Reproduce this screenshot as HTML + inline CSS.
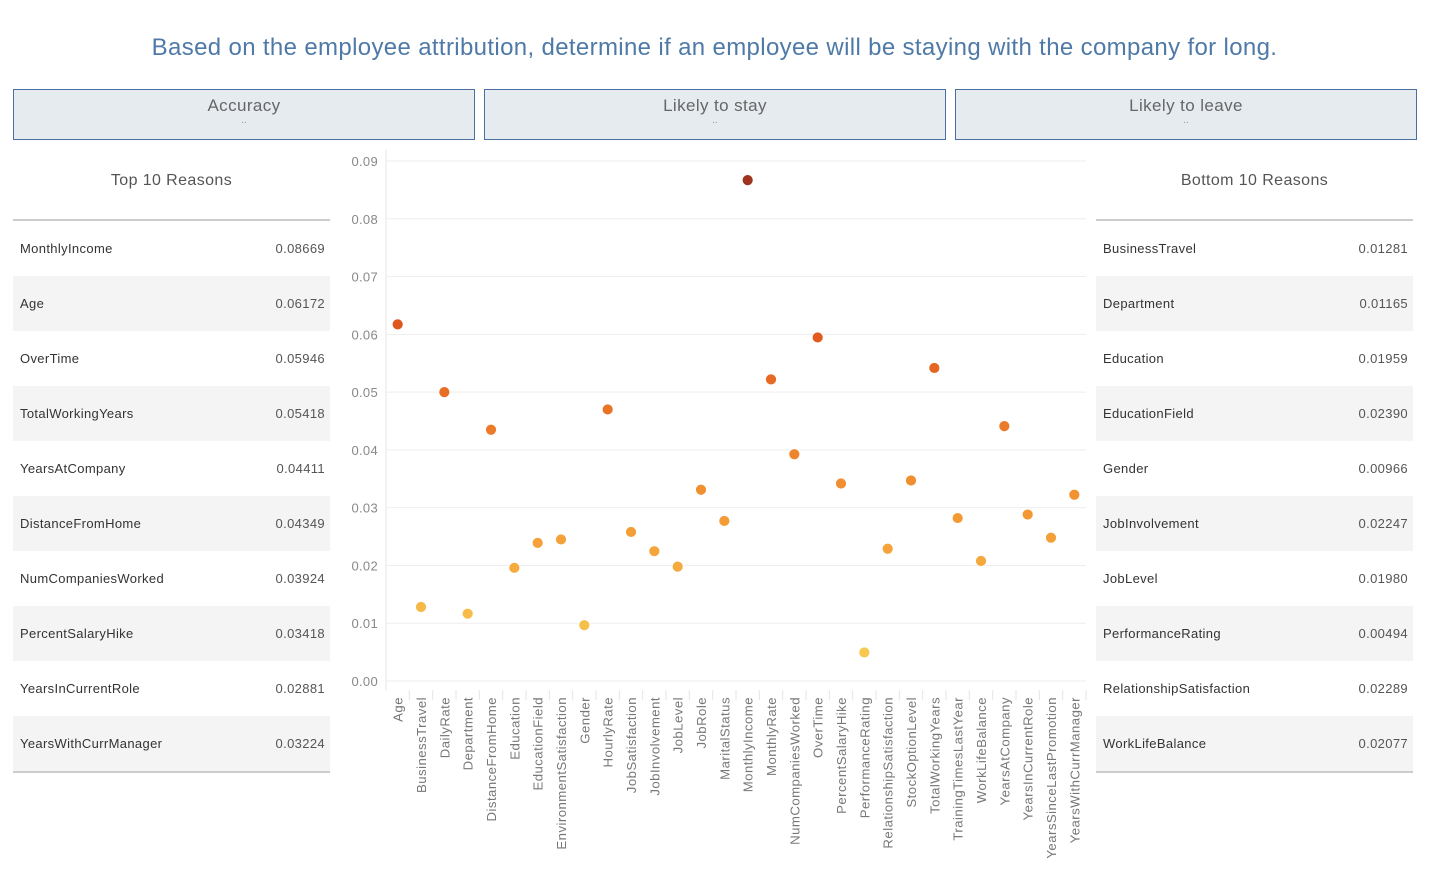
<!DOCTYPE html>
<html><head><meta charset="utf-8"><style>
body{margin:0;width:1429px;height:879px;background:#fff;font-family:"Liberation Sans",sans-serif;position:relative;overflow:hidden}
.title{position:absolute;top:34px;left:0;width:1429px;text-align:center;color:#4f7aa8;font-size:24px;letter-spacing:0.35px}
.kpi{position:absolute;top:89px;height:49px;background:#e6ebf0;border:1px solid #4a6fa0;text-align:center;color:#666;font-size:17px}
.kpi .t{margin-top:6px;letter-spacing:0.4px}.kpi .d{font-size:10px;color:#999;line-height:10px}
.tbl{position:absolute;top:150px;width:317px}
.tbl h3{margin:0;height:69px;line-height:62px;text-align:center;font-weight:normal;color:#555;font-size:16px;letter-spacing:0.4px;border-bottom:2px solid #ccc}
.row{height:55px;display:flex;justify-content:space-between;align-items:center;padding:0 5px 0 7px;font-size:13px;letter-spacing:0.35px;color:#333}
.row:nth-child(even){background:#f4f4f4}
.row span:last-child{color:#555}
.rows{border-bottom:2px solid #ccc}
</style></head><body>
<div class="title">Based on the employee attribution, determine if an employee will be staying with the company for long.</div>
<div class="kpi" style="left:13px;width:460px"><div class="t">Accuracy</div><div class="d">..</div></div>
<div class="kpi" style="left:484px;width:460px"><div class="t">Likely to stay</div><div class="d">..</div></div>
<div class="kpi" style="left:955px;width:460px"><div class="t">Likely to leave</div><div class="d">..</div></div>
<div class="tbl" style="left:13px"><h3>Top 10 Reasons</h3><div class="rows" id="topRows"></div></div>
<div class="tbl" style="left:1096px"><h3>Bottom 10 Reasons</h3><div class="rows" id="botRows"></div></div>
<svg id="chart" width="1429" height="879" style="position:absolute;left:0;top:0"></svg>
<script>
const categories=["Age","BusinessTravel","DailyRate","Department","DistanceFromHome","Education","EducationField","EnvironmentSatisfaction","Gender","HourlyRate","JobSatisfaction","JobInvolvement","JobLevel","JobRole","MaritalStatus","MonthlyIncome","MonthlyRate","NumCompaniesWorked","OverTime","PercentSalaryHike","PerformanceRating","RelationshipSatisfaction","StockOptionLevel","TotalWorkingYears","TrainingTimesLastYear","WorkLifeBalance","YearsAtCompany","YearsInCurrentRole","YearsSinceLastPromotion","YearsWithCurrManager"];
const values=[0.06172,0.01281,0.0500,0.01165,0.04349,0.01959,0.02390,0.0245,0.00966,0.0470,0.0258,0.02247,0.01980,0.0331,0.0277,0.08669,0.0522,0.03924,0.05946,0.03418,0.00494,0.02289,0.0347,0.05418,0.0282,0.02077,0.04411,0.02881,0.0248,0.03224];
const yTicks=[0,0.01,0.02,0.03,0.04,0.05,0.06,0.07,0.08,0.09];
const topNames=["MonthlyIncome","Age","OverTime","TotalWorkingYears","YearsAtCompany","DistanceFromHome","NumCompaniesWorked","PercentSalaryHike","YearsInCurrentRole","YearsWithCurrManager"];
const topVals=["0.08669","0.06172","0.05946","0.05418","0.04411","0.04349","0.03924","0.03418","0.02881","0.03224"];
const botNames=["BusinessTravel","Department","Education","EducationField","Gender","JobInvolvement","JobLevel","PerformanceRating","RelationshipSatisfaction","WorkLifeBalance"];
const botVals=["0.01281","0.01165","0.01959","0.02390","0.00966","0.02247","0.01980","0.00494","0.02289","0.02077"];
function fill(id,n,v,pref){const c=document.getElementById(id);n.forEach((name,i)=>{const r=document.createElement('div');r.className='row';


r.innerHTML='<span>'+name+'</span><span>'+v[i]+'</span>';c.appendChild(r);});}
fill('topRows',topNames,topVals,'top-reason');fill('botRows',botNames,botVals,'bottom-reason');
const ns='http://www.w3.org/2000/svg',svg=document.getElementById('chart');
const x0=386,x1=1086,yTop=161,yBot=681,yMax=0.09;
const y=v=>yBot-(v/yMax)*(yBot-yTop);
const step=(x1-x0)/categories.length;
const x=i=>x0+step*(i+0.5);
function el(t,a){const e=document.createElementNS(ns,t);for(const k in a)e.setAttribute(k,a[k]);svg.appendChild(e);return e;}
const ax=el('line',{x1:x0,x2:x0,y1:150,y2:690,stroke:'#e6e6e6'});


yTicks.forEach(t=>{const g=el('line',{x1:x0,x2:x1,y1:y(t),y2:y(t),stroke:'#eeeeee'});


const tx=el('text',{x:378,y:y(t)+5,'text-anchor':'end','font-size':13,fill:'#888','font-family':'Liberation Sans','letter-spacing':0.3});tx.textContent=t.toFixed(2);

});
categories.forEach((c,i)=>{const sep=el('line',{x1:x0+step*(i+1),x2:x0+step*(i+1),y1:690,y2:700,stroke:'#e6e6e6'});


const t=el('text',{x:0,y:0,transform:'translate('+(x(i)+5)+',697) rotate(-90)','text-anchor':'end','font-size':13.2,'letter-spacing':0.45,fill:'#777','font-family':'Liberation Sans'});t.textContent=c;

});
function col(v){const s=[[0.005,[247,200,80]],[0.03,[243,150,50]],[0.06,[226,90,30]],[0.087,[158,52,32]]];
let a=s[0],b=s[1];for(let k=0;k<s.length-1;k++){if(v>=s[k][0]){a=s[k];b=s[k+1];}}
let f=Math.max(0,Math.min(1,(v-a[0])/(b[0]-a[0])));return 'rgb('+a[1].map((q,j)=>Math.round(q+(b[1][j]-q)*f)).join(',')+')';}
values.forEach((v,i)=>{const d=el('circle',{cx:x(i),cy:y(v),r:5.5,fill:col(v),stroke:'#fff','stroke-width':0.8});

});
</script>
</body></html>
